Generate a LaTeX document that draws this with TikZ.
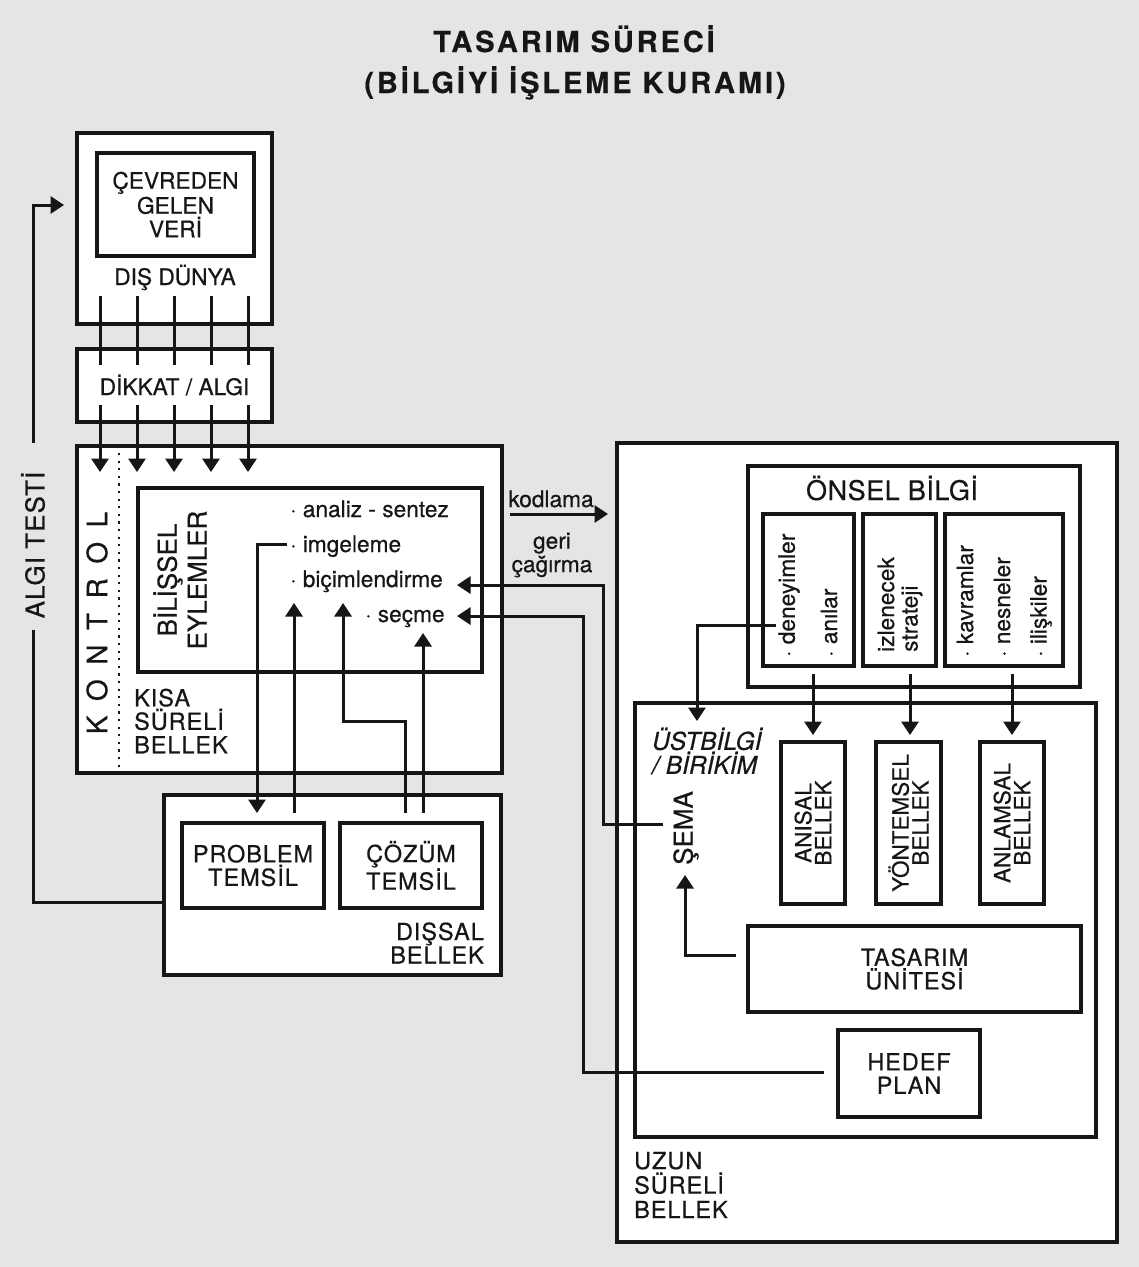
\documentclass[tikz,border=0pt]{standalone}
\usepackage{fontspec}
\setmainfont{TeX Gyre Heros}[FakeBold=0.5]
\usetikzlibrary{arrows.meta,calc}
\definecolor{bg}{RGB}{229,229,229}
\definecolor{ink}{RGB}{22,22,22}
\tikzset{
  box/.style={draw=ink, fill=white, line width=3.1pt, inner sep=0pt},
  con/.style={draw=ink, line width=3pt},
  arr/.style={con, -{Triangle[width=17pt,length=13.5pt]}},
  lbl/.style={font=\fontsize{22.7}{23.5}\selectfont, text=ink, inner sep=0pt, align=center},
  big/.style={lbl, font=\fontsize{23.5}{23.5}\selectfont\addfontfeature{LetterSpace=4}},
  rot/.style={lbl, rotate=90},
  ttl/.style={font=\fontsize{29}{31}\selectfont\bfseries\addfontfeature{LetterSpace=10}, text=ink, inner sep=0pt, anchor=base},
}
\begin{document}
\begin{tikzpicture}[x=1pt,y=-1pt]
\fill[bg] (0,0) rectangle (1139,1267);
\useasboundingbox (0,0) rectangle (1139,1267);

% title
\node[ttl] (t1) at (574,52) {TASARIM SÜRECİ};
\node[ttl] (t2) at (575,93) {(BİLGİYİ İŞLEME KURAMI)};

% left column boxes
\node[box, minimum width=195pt, minimum height=191pt] (dis) at (174.5,228.5) {};
\node[box, lbl, minimum width=157pt, minimum height=103pt] (cevre) at (175.5,204.5) {ÇEVREDEN\\[1.5pt]GELEN\\VERİ};
\node[lbl, anchor=base] (disdunya) at (175,285) {DIŞ DÜNYA};
\node[box, minimum width=195pt, minimum height=73pt] (dikkat) at (174.5,385.5) {};
\node[lbl, anchor=base] (dikkattxt) at (174.5,395) {DİKKAT / ALGI};

\node[box, minimum width=425pt, minimum height=327pt] (kisa) at (289.5,609.5) {};
\node[box, minimum width=344pt, minimum height=184pt] (bilissel) at (310,580) {};
\draw[ink, line width=2.2pt, dash pattern=on 2.2pt off 5.4pt] (119,453) -- (119,768);
\node[lbl, rotate=90, font=\fontsize{28}{30}\selectfont] (kontrol) at (97,623) {K\hspace{14.5pt}O\hspace{14.5pt}N\hspace{14.5pt}T\hspace{14.5pt}R\hspace{14.5pt}O\hspace{14.5pt}L};
\node[lbl, rotate=90, font=\fontsize{26}{30}\selectfont] (biltxt) at (180,580) {BİLİŞSEL\\EYLEMLER};
\node[big, anchor=west, align=left] (kisatxt) at (134,721) {KISA\\SÜRELİ\\BELLEK};

\node[lbl, anchor=base west] (analiz) at (290,517) {· analiz - sentez};
\node[lbl, anchor=base west] (imgeleme) at (290,552) {· imgeleme};
\node[lbl, anchor=base west] (bicim) at (290,587) {· biçimlendirme};
\node[lbl, anchor=base west] (secme) at (365,622) {· seçme};

\node[box, minimum width=337pt, minimum height=180pt] (dissal) at (332.5,885) {};
\node[box, big, minimum width=142pt, minimum height=85pt] (problem) at (253,865.5) {PROBLEM\\TEMSİL};
\node[box, big, minimum width=142pt, minimum height=85pt] (cozum) at (411,865.5) {ÇÖZÜM\\TEMSİL};
\node[big, anchor=east, align=right, font=\fontsize{23.5}{22}\selectfont\addfontfeature{LetterSpace=4}] (dissaltxt) at (484,943) {DIŞSAL\\BELLEK};

% right: long-term memory
\node[box, minimum width=500pt, minimum height=799pt] (uzun) at (867,842.5) {};
\node[box, minimum width=332pt, minimum height=221pt] (onsel) at (914,576.5) {};
\node[lbl, anchor=base, font=\fontsize{27}{28}\selectfont\addfontfeature{LetterSpace=2}] (onseltxt) at (892,500) {ÖNSEL BİLGİ};
\node[box, minimum width=91pt, minimum height=152pt] (sub1) at (808.5,590) {};
\node[box, minimum width=73pt, minimum height=152pt] (sub2) at (899.5,590) {};
\node[box, minimum width=118pt, minimum height=152pt] (sub3) at (1004,590) {};
\node[rot, anchor=west] (deney) at (789,657) {· deneyimler};
\node[rot, anchor=west] (anilar) at (829,657) {· anılar};
\node[rot, anchor=west, align=left] (izlen) at (900,652) {izlenecek\\strateji};
\node[rot, anchor=west] (kavram) at (965,657) {· kavramlar};
\node[rot, anchor=west] (nesne) at (1002,657) {· nesneler};
\node[rot, anchor=west] (iliski) at (1041,657) {· ilişkiler};

\node[box, minimum width=461pt, minimum height=434pt] (inner) at (865.5,920) {};
\node[lbl, anchor=west, align=left, font=\fontsize{24.5}{24}\selectfont\itshape] (ustbilgi) at (652,751) {ÜSTBİLGİ\\/ BİRİKİM};
\node[lbl, rotate=90, font=\fontsize{26}{28}\selectfont] (sema) at (686,828) {ŞEMA};

\node[box, minimum width=64pt, minimum height=162pt] (anisal) at (813,823) {};
\node[box, minimum width=65pt, minimum height=162pt] (yontem) at (908.5,823) {};
\node[box, minimum width=64pt, minimum height=162pt] (anlam) at (1012,823) {};
\node[rot, font=\fontsize{22.5}{20}\selectfont] (anisaltxt) at (813,823) {ANISAL\\BELLEK};
\node[rot, font=\fontsize{22.5}{20}\selectfont] (yontemtxt) at (908.5,823) {YÖNTEMSEL\\BELLEK};
\node[rot, font=\fontsize{22.5}{20}\selectfont] (anlamtxt) at (1012,823) {ANLAMSAL\\BELLEK};

\node[box, big, minimum width=333pt, minimum height=86pt] (tasarim) at (914.5,969) {TASARIM\\ÜNİTESİ};
\node[box, big, minimum width=142pt, minimum height=87pt] (hedef) at (909,1073.5) {HEDEF\\PLAN};
\node[big, anchor=west, align=left, font=\fontsize{23.5}{24.5}\selectfont\addfontfeature{LetterSpace=4}] (uzuntxt) at (634,1185) {UZUN\\SÜRELİ\\BELLEK};

% kodlama / geri cagirma
\node[lbl, anchor=base] (kodlama) at (551,507) {kodlama};
\node[lbl] (geri) at (552,555) {geri\\çağırma};
\coordinate (kodS) at (510,514);
\coordinate (kodE) at (608,514);
\draw[arr] (kodS) -- (kodE);

% attention lines
\foreach \x in {100,137,174,211,248}{
  \draw[con] (\x,296) -- (\x,365);
  \draw[arr] (\x,405) -- (\x,472);
}

% ALGI TESTI loop
\node[lbl, rotate=90, font=\fontsize{26}{27}\selectfont\addfontfeature{LetterSpace=4}] (algi) at (33,545) {ALGI TESTİ};
\draw[con] (dissal.west |- 0,902) -- (33,902) -- (33,630);
\draw[arr] (33,443) -- (33,205) -- (64,205);

% short-term <-> external memory
\draw[arr] (imgeleme.west |- 0,544) ++(-3,0) -- (257,544) -- (257,813);
\draw[arr] (294,813) -- (294,603);
\draw[arr] (405,813) |- (343,721) -- (343,603);
\draw[arr] (423,813) -- (423,633);

% long-term -> short-term
\draw[arr] (663,824) -- (603,824) -- (603,585) -- (457,585);
\draw[arr] (hedef.west |- 0,1072) ++(-12,0) -- (583,1072) -- (583,616) -- (457,616);

% inside long-term
\draw[arr] (776,625) -- (697,625) -- (697,721);
\draw[arr] (tasarim.west |- 0,955) ++(-10,0) -- (685,955) -- (685,875);
\draw[arr] (813,674) -- (813,735);
\draw[arr] (910,674) -- (910,735);
\draw[arr] (1012,674) -- (1012,735);
\end{tikzpicture}
\end{document}
